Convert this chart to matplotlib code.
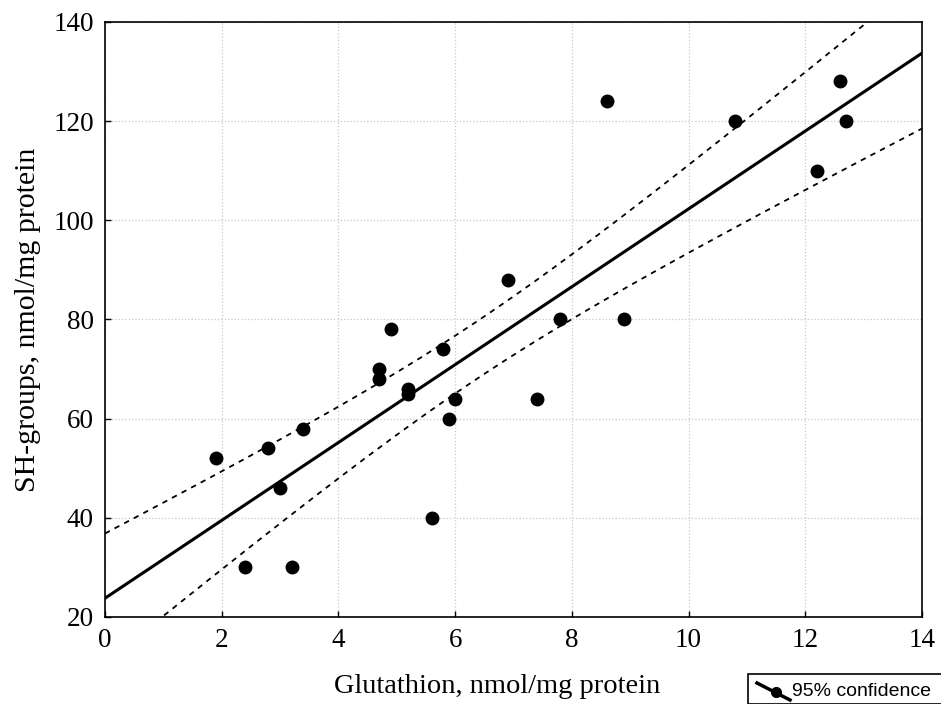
import numpy as np
import matplotlib
matplotlib.use("Agg")
import matplotlib.pyplot as plt
from matplotlib.lines import Line2D
from matplotlib.patches import Rectangle

# Glutathion vs SH-groups (nmol/mg protein)
glutathion = [1.9, 2.4, 2.8, 3.0, 3.2, 3.4, 4.7, 4.7, 4.9, 5.2, 5.2, 5.6,
              5.8, 5.9, 6.0, 6.9, 7.4, 7.8, 8.6, 8.9, 10.8, 12.2, 12.6, 12.7]
sh_groups = [52, 30, 54, 46, 30, 58, 70, 68, 78, 66, 65, 40,
             74, 60, 64, 88, 64, 80, 124, 80, 120, 110, 128, 120]

x_ticks = [0, 2, 4, 6, 8, 10, 12, 14]
y_ticks = [20, 40, 60, 80, 100, 120, 140]

x = np.array(glutathion, dtype=float)
y = np.array(sh_groups, dtype=float)

# Linear fit with 95% confidence band for the mean
n = len(x)
slope, intercept = np.polyfit(x, y, 1)
resid = y - (slope * x + intercept)
s = np.sqrt(np.sum(resid ** 2) / (n - 2))
t_crit = 2.074  # t(0.975, df=22)
xs = np.linspace(0, 14, 300)
fit = slope * xs + intercept
se = s * np.sqrt(1 / n + (xs - x.mean()) ** 2 / np.sum((x - x.mean()) ** 2))

serif = ["Liberation Serif", "DejaVu Serif"]

fig = plt.figure(figsize=(9.41, 7.04), dpi=100)
ax = fig.add_axes([0.1116, 0.1236, 0.8682, 0.8452])

ax.plot(xs, fit, color="black", linewidth=2.2, zorder=3)
ax.plot(xs, fit + t_crit * se, color="black", linewidth=1.3, linestyle=(0, (3, 3)), zorder=3)
ax.plot(xs, fit - t_crit * se, color="black", linewidth=1.3, linestyle=(0, (3, 3)), zorder=3)
ax.plot(x, y, "o", color="black", markersize=9, zorder=4)

ax.set_xlim(0, 14)
ax.set_ylim(20, 140)
ax.set_xticks(x_ticks)
ax.set_yticks(y_ticks)
ax.grid(True, color="#c8c8c8", linestyle=":", linewidth=0.9)
ax.tick_params(direction="in", length=4, width=1, labelsize=19.5, pad=8)
for lab in ax.get_xticklabels() + ax.get_yticklabels():
    lab.set_fontfamily(serif)
for sp in ax.spines.values():
    sp.set_linewidth(1.2)

ax.set_xlabel("Glutathion, nmol/mg protein", fontsize=20.5, family=serif)
ax.xaxis.set_label_coords(0.48, -0.095)
ax.set_ylabel("SH-groups, nmol/mg protein", fontsize=21.5, family=serif, labelpad=9)

# Legend box in the bottom right corner, clipped by the figure edge
fig.patches.append(Rectangle((748 / 941, 0), 0.25, 30 / 704, transform=fig.transFigure,
                             facecolor="white", edgecolor="black", linewidth=1.2))
fig.lines.append(Line2D([757 / 941, 790 / 941], [1 - 683 / 704, 1 - 700 / 704],
                        transform=fig.transFigure, color="black", linewidth=2.5))
fig.lines.append(Line2D([776 / 941], [1 - 692 / 704], transform=fig.transFigure,
                        marker="o", color="black", markersize=7))
fig.text(792 / 941, 1 - 691 / 704, "95% confidence", fontsize=14,
         family=["Liberation Sans", "DejaVu Sans"], va="center", ha="left")

fig.savefig("out.png", dpi=100)
